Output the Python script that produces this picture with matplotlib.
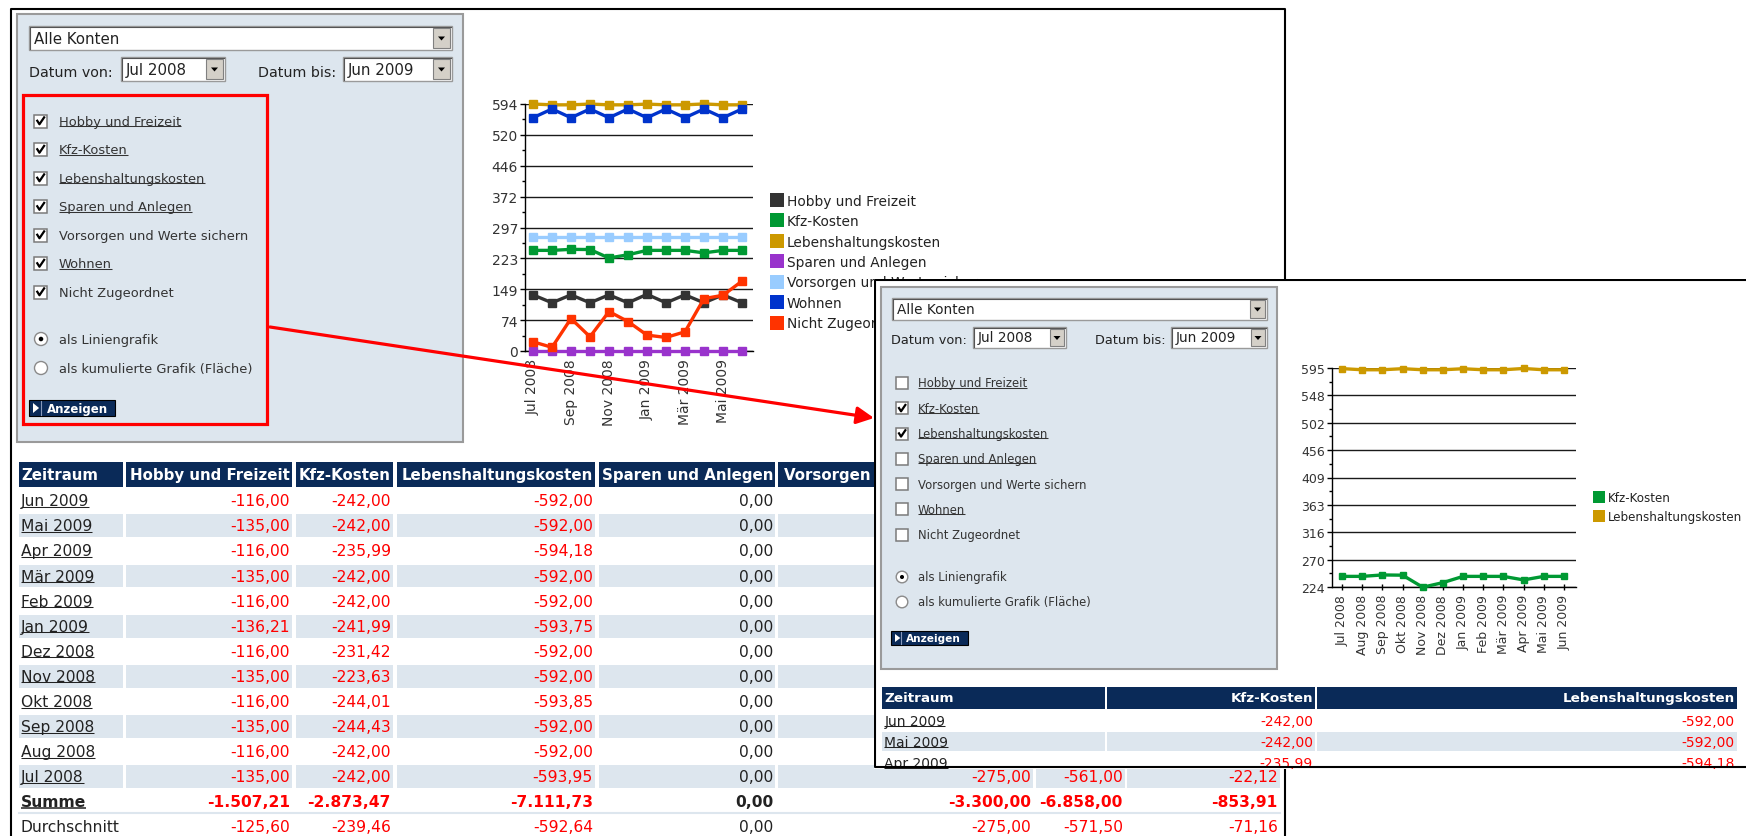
import matplotlib
matplotlib.use('Agg')
import matplotlib.pyplot as plt
from matplotlib.patches import Rectangle, Circle, Polygon
from matplotlib.lines import Line2D
import numpy as np

plt.rcParams['font.family'] = ['DejaVu Sans']

W, H = 1746, 837

# ---- data -------------------------------------------------------------
months = ['Jul 2008', 'Aug 2008', 'Sep 2008', 'Okt 2008', 'Nov 2008', 'Dez 2008',
          'Jan 2009', 'Feb 2009', 'Mär 2009', 'Apr 2009', 'Mai 2009', 'Jun 2009']

categories = ['Hobby und Freizeit', 'Kfz-Kosten', 'Lebenshaltungskosten', 'Sparen und Anlegen',
              'Vorsorgen und Werte sichern', 'Wohnen', 'Nicht Zugeordnet']
cat_colors = ['#333333', '#009933', '#cc9900', '#9933cc', '#99ccff', '#0033cc', '#ff3300']
is_link = [True, True, True, True, False, True, False]

hobby = [135, 116, 135, 116, 135, 116, 136.21, 116, 135, 116, 135, 116]
kfz = [242, 242, 244.43, 244.01, 223.63, 231.42, 241.99, 242, 242, 235.99, 242, 242]
leben = [593.95, 592, 592, 593.85, 592, 592, 593.75, 592, 592, 594.18, 592, 592]
sparen = [0, 0, 0, 0, 0, 0, 0, 0, 0, 0, 0, 0]
vorsorgen = [275, 275, 275, 275, 275, 275, 275, 275, 275, 275, 275, 275]
wohnen = [561, 582, 561, 582, 561, 582, 561, 582, 561, 582, 561, 582]
nicht = [22.12, 8.8, 78.0, 34.2, 94.9, 70.9, 38.2, 32.6, 46.2, 126.0, 134.0, 167.99]
series = [hobby, kfz, leben, sparen, vorsorgen, wohnen, nicht]

y1_ticklabels = ['0', '74', '149', '223', '297', '372', '446', '520', '594']
x1_ticklabels = ['Jul 2008', '', 'Sep 2008', '', 'Nov 2008', '', 'Jan 2009', '',
                 'Mär 2009', '', 'Mai 2009', '']
y2_ticklabels = ['224', '270', '316', '363', '409', '456', '502', '548', '595']
shown2 = [False, True, True, False, False, False, False]

PANEL = '#dde6ee'
NAVY = '#0a2a58'
RED = '#ff0000'
INK = '#222222'

fig = plt.figure(figsize=(W / 100, H / 100), dpi=100, facecolor='white')
rend = fig.canvas.get_renderer()


def pix_axes(x0, y0, x1, y1, z):
    ax = fig.add_axes([x0 / W, 1 - y1 / H, (x1 - x0) / W, (y1 - y0) / H], zorder=z)
    ax.set_xlim(x0, x1)
    ax.set_ylim(y1, y0)
    ax.axis('off')
    return ax


def box(ax, x0, y0, x1, y1, fc='white', ec='none', lw=0, z=2):
    ax.add_patch(Rectangle((x0, y0), x1 - x0, y1 - y0, facecolor=fc, edgecolor=ec,
                           linewidth=lw, zorder=z))


def label(ax, x, y, s, size, color=INK, bold=False, ha='left', link=False, clip=False):
    t = ax.text(x, y, s, fontsize=size, color=color, fontweight='bold' if bold else 'normal',
                ha=ha, va='center', zorder=5, clip_on=clip)
    if link:
        bb = t.get_window_extent(renderer=rend)
        inv = ax.transData.inverted()
        xa = inv.transform((bb.x0, bb.y0))[0]
        xb = inv.transform((bb.x1, bb.y0))[0]
        uy = y + 0.39 * size / 0.72
        ax.plot([xa, xb], [uy, uy], color=color, lw=1.1 if bold else 0.75, zorder=5,
                clip_on=clip, solid_capstyle='butt')
    return t


def dropdown(ax, x0, y0, x1, y1, s, size):
    box(ax, x0, y0, x1, y1, fc='white', ec='#9a9a9a', lw=1)
    ax.plot([x0 + 1, x0 + 1, x1 - 1], [y1 - 1, y0 + 1, y0 + 1], color='#555555', lw=0.8, zorder=3)
    bw = (y1 - y0) - 7
    box(ax, x1 - 2 - bw, y0 + 2, x1 - 2, y1 - 2, fc='#d4d0c8', ec='#808080', lw=0.8, z=3)
    cx, cy = x1 - 2 - bw / 2, (y0 + y1) / 2
    ax.add_patch(Polygon([[cx - 3.5, cy - 1.5], [cx + 3.5, cy - 1.5], [cx, cy + 2.5]],
                         closed=True, facecolor='black', edgecolor='none', zorder=4))
    label(ax, x0 + 5, cy, s, size)


def checkbox(ax, x, yc, s, checked):
    box(ax, x, yc - s / 2, x + s, yc + s / 2, fc='white', ec='#7a7a7a', lw=1.1, z=3)
    if checked:
        ax.plot([x + 0.25 * s, x + 0.42 * s, x + 0.78 * s],
                [yc - 0.02 * s, yc + 0.25 * s, yc - 0.28 * s], color='black', lw=1.6, zorder=4)


def radio(ax, xc, yc, r, on):
    ax.add_patch(Circle((xc, yc), r, facecolor='white', edgecolor='#8a8a8a', lw=1, zorder=3))
    if on:
        ax.add_patch(Circle((xc, yc), r * 0.35, facecolor='black', edgecolor='none', zorder=4))


def button(ax, x0, y0, x1, y1, size):
    box(ax, x0, y0, x1, y1, fc=NAVY, ec='black', lw=0.8, z=3)
    h = y1 - y0
    ax.add_patch(Polygon([[x0 + 4, y0 + 3], [x0 + 4, y1 - 3], [x0 + 4 + 0.38 * h, (y0 + y1) / 2]],
                         closed=True, facecolor='white', edgecolor='none', zorder=4))
    ax.plot([x0 + 0.75 * h] * 2, [y0 + 1, y1 - 1], color='#8899bb', lw=0.8, zorder=4)
    label(ax, x0 + 1.1 * h, (y0 + y1) / 2 + 0.5, 'Anzeigen', size, color='white', bold=True)


def de(v):
    s = f'{abs(v):,.2f}'.replace(',', 'X').replace('.', ',').replace('X', '.')
    return '-' + s if v != 0 else s


def panel(ax, p):
    box(ax, p['x0'], p['y0'], p['x1'], p['y1'], fc=PANEL, ec='#9a9a9a', lw=1.5, z=1)
    dropdown(ax, *p['dd'], 'Alle Konten', p['dd_fs'])
    label(ax, p['von_x'], p['datum_y'], 'Datum von:', p['lab_fs'])
    dropdown(ax, *p['von'], 'Jul 2008', p['dd_fs'])
    label(ax, p['bis_x'], p['datum_y'], 'Datum bis:', p['lab_fs'])
    dropdown(ax, *p['bis'], 'Jun 2009', p['dd_fs'])
    for i, name in enumerate(categories):
        yc = p['cb_y'] + p['cb_step'] * i
        checkbox(ax, p['cb_x'], yc, p['cb_s'], p['checked'][i])
        label(ax, p['txt_x'], yc, name, p['fs'], color='#333333', link=is_link[i])
    for j, (name, on) in enumerate([('als Liniengrafik', True),
                                    ('als kumulierte Grafik (Fläche)', False)]):
        yc = p['rad_y'][j]
        radio(ax, p['rad_x'], yc, p['rad_r'], on)
        label(ax, p['txt_x'], yc, name, p['fs'], color='#333333')
    button(ax, *p['btn'], p['btn_fs'])


def table(ax, cols, heads, hy, row_names, rows, yc0, step, fs, hfs, light_rows, bold_rows=(),
          link_rows=(), clip=False):
    half = step / 2 - 1.2
    for (x0, x1), name in zip(cols, heads):
        box(ax, x0, hy[0], x1, hy[1], fc=NAVY, z=2)
        if name == heads[0]:
            label(ax, x0 + 2.5, (hy[0] + hy[1]) / 2, name, hfs, color='white', bold=True, clip=clip)
        else:
            label(ax, x1 - 2, (hy[0] + hy[1]) / 2, name, hfs, color='white', bold=True,
                  ha='right', clip=clip)
    for i, (rn, vals) in enumerate(zip(row_names, rows)):
        yc = yc0 + step * i
        bold = i in bold_rows
        if i in light_rows:
            for x0, x1 in cols:
                box(ax, x0, yc - half, x1, yc + half, fc=PANEL, z=2)
        label(ax, cols[0][0] + 2.5, yc, rn, fs, color=INK, bold=bold, link=i in link_rows, clip=clip)
        for (x0, x1), v in zip(cols[1:], vals):
            label(ax, x1 - 2, yc, de(v), fs, color=RED if v != 0 else INK, bold=bold,
                  ha='right', clip=clip)


# ---- first screenshot (background) -------------------------------------
ax0 = pix_axes(0, 0, W, H, 0)

panel(ax0, dict(x0=17, y0=15, x1=463, y1=443, dd=(29, 27, 452, 51), dd_fs=10.8, lab_fs=10.3,
                von_x=29, datum_y=73, von=(121, 58, 225, 82), bis_x=258, bis=(343, 58, 452, 82),
                cb_x=34, cb_y=122, cb_step=28.5, cb_s=13, checked=[True] * 7, txt_x=59, fs=9.4,
                rad_x=41, rad_y=(340, 369), rad_r=6.5, btn=(29, 401, 115, 417), btn_fs=8.5))

ax0.add_patch(Rectangle((22.5, 95.5), 244.5, 329, facecolor='none', edgecolor=RED, lw=2.3, zorder=6))

cols1 = [(18.5, 122.5), (126, 292), (296, 393), (397, 595), (599, 775), (778, 1033),
         (1036, 1125), (1127, 1280)]
rev = list(range(11, -1, -1))
names1 = [months[k] for k in rev] + ['Summe', 'Durchschnitt']
rows1 = [[s[k] for s in series] for k in rev]
rows1.append([sum(s) for s in series])
rows1.append([float(np.mean(s)) for s in series])
table(ax0, cols1, ['Zeitraum'] + categories, (463, 488), names1, rows1, 501.7, 25.1, 11.2, 10.8,
      light_rows=[1, 3, 5, 7, 9, 11], bold_rows=[12], link_rows=list(range(13)))
ax0.plot([18.5, 1280], [814, 814], color=PANEL, lw=1.5, zorder=2)

# frame of the first screenshot
ax0.plot([11, 11, 1285, 1285], [H, 10, 10, H], color='black', lw=1.5, zorder=7)

# ---- chart 1 ------------------------------------------------------------
ax1 = fig.add_axes([525 / W, 1 - 352 / H, 228 / W, 247 / H], zorder=1)
ax1.patch.set_alpha(0)
xs = np.arange(len(months))
lo1, hi1 = float(y1_ticklabels[0]), float(y1_ticklabels[-1])
for vals, c in zip(series, cat_colors):
    ax1.plot(xs, vals, color=c, lw=2.4, marker='s', ms=5.5, mec=c, clip_on=False, zorder=3)
ax1.set_xlim(-0.42, 11.58)
ax1.set_ylim(lo1, hi1)


def style_chart(ax, yl, xl, lo, hi, fs):
    yt = np.linspace(lo, hi, len(yl))
    ax.set_yticks(yt)
    ax.set_yticklabels(yl)
    ax.set_yticks((yt[:-1] + yt[1:]) / 2, minor=True)
    ax.set_xticks(np.arange(len(xl)))
    ax.set_xticklabels(xl, rotation=90)
    for s in ['top', 'right']:
        ax.spines[s].set_visible(False)
    for s in ['left', 'bottom']:
        ax.spines[s].set_color('black')
        ax.spines[s].set_linewidth(1)
    ax.yaxis.grid(True, color='#1a1a1a', lw=1)
    ax.set_axisbelow(True)
    ax.tick_params(axis='y', which='major', length=3.6, width=1, pad=1.5, labelsize=fs,
                   labelcolor='#333333')
    ax.tick_params(axis='y', which='minor', length=2.4, width=1)
    ax.tick_params(axis='x', which='major', direction='inout', length=5, width=1, pad=2.5,
                   labelsize=fs, labelcolor='#333333')


style_chart(ax1, y1_ticklabels, x1_ticklabels, lo1, hi1, 10)

h1 = [Line2D([], [], ls='none', marker='s', ms=9.4, color=c, mew=0) for c in cat_colors]
ax1.legend(h1, categories, loc='center left', bbox_to_anchor=(771 / W, 1 - 263 / H),
           bbox_transform=fig.transFigure, frameon=False, fontsize=9.9, handlelength=0.9,
           handletextpad=0.25, labelspacing=0.47, borderpad=0, borderaxespad=0, labelcolor=INK)

# ---- second screenshot (overlay) ----------------------------------------
ax2 = pix_axes(874, 280, W, 770, 2)
ax2.add_patch(Rectangle((874, 280), W - 874, 490, facecolor='white', edgecolor='none', zorder=0))

panel(ax2, dict(x0=881, y0=288, x1=1277, y1=670, dd=(892, 299, 1267, 321), dd_fs=9.8, lab_fs=9.3,
                von_x=891, datum_y=341, von=(973, 328, 1066, 349), bis_x=1095,
                bis=(1171, 328, 1267, 349), cb_x=896, cb_y=384, cb_step=25.3, cb_s=12,
                checked=shown2, txt_x=918, fs=8.4, rad_x=902, rad_y=(578, 603), rad_r=5.8,
                btn=(891, 632, 968, 646), btn_fs=7.6))

sel = [i for i, f in enumerate(shown2) if f]
cols2 = [(882, 1105), (1107, 1315), (1317, 1737)]
names2 = [months[k] for k in rev[:3]]
rows2 = [[series[i][k] for i in sel] for k in rev[:3]]
table(ax2, cols2, ['Zeitraum'] + [categories[i] for i in sel], (688, 710), names2, rows2,
      721.7, 21, 10, 9.7, light_rows=[1], link_rows=[0, 1, 2], clip=True)

ax2.plot([W, 875.5, 875.5, W], [281, 281, 768.5, 768.5], color='black', lw=1.5, zorder=8)

# ---- chart 2 ------------------------------------------------------------
ax4 = fig.add_axes([1332 / W, 1 - 588 / H, 244 / W, 219 / H], zorder=3)
ax4.patch.set_alpha(0)
lo2, hi2 = float(y2_ticklabels[0]), float(y2_ticklabels[-1])
for i in sel:
    ax4.plot(xs, series[i], color=cat_colors[i], lw=2.4, marker='s', ms=5, mec=cat_colors[i],
             clip_on=False, zorder=3)
ax4.set_xlim(-0.5, 11.6)
ax4.set_ylim(lo2, hi2)
style_chart(ax4, y2_ticklabels, months, lo2, hi2, 9)

h2 = [Line2D([], [], ls='none', marker='s', ms=8.6, color=cat_colors[i], mew=0) for i in sel]
ax4.legend(h2, [categories[i] for i in sel], loc='center left',
           bbox_to_anchor=(1593 / W, 1 - 508 / H), bbox_transform=fig.transFigure, frameon=False,
           fontsize=8.6, handlelength=1.0, handletextpad=0.25, labelspacing=0.5, borderpad=0,
           borderaxespad=0, labelcolor=INK)

# ---- arrow linking the two screenshots ----------------------------------
ax3 = pix_axes(0, 0, W, H, 10)
ax3.annotate('', xy=(874, 419), xytext=(270, 328),
             arrowprops=dict(arrowstyle='-|>', color=RED, lw=2.3, mutation_scale=26,
                             shrinkA=0, shrinkB=0))

fig.savefig('out.png', dpi=100, facecolor='white')
